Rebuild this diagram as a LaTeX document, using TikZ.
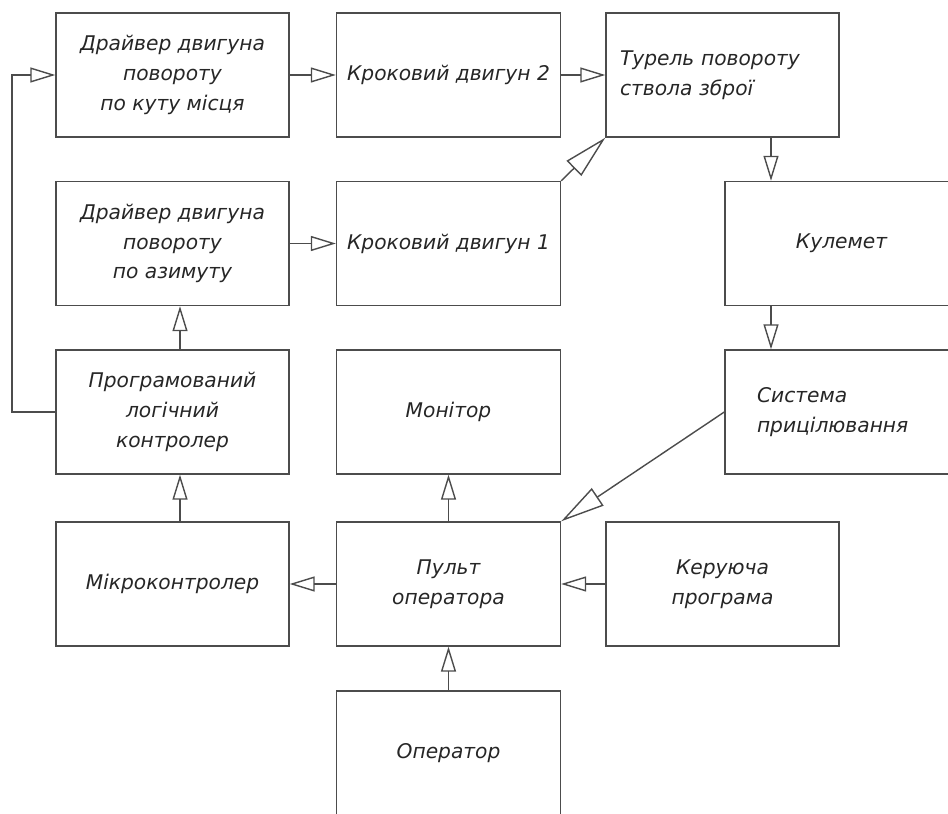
\documentclass[tikz,border=0pt]{standalone}
\usepackage{fontspec}
\setmainfont{DejaVu Sans}
\usetikzlibrary{arrows.meta}
\tikzset{
	blok/.style={draw=black!70, line width=0.8pt, minimum width=4.66cm, minimum height=2.48cm,
		align=center, inner sep=2pt, text=black!85, font=\fontsize{11.5}{17}\selectfont\itshape},
	vuzka/.style={blok, minimum width=4.48cm},
	strilka/.style={draw=black!70, line width=0.8pt, -{Triangle[open, length=0.5cm, width=0.3cm]}},
	kosa/.style={strilka, -{Triangle[open, length=0.88cm, width=0.42cm]}}
}
\begin{document}
\begin{tikzpicture}[x=0.02cm, y=-0.02cm]
\def\kA{172.5}
\def\kB{448.5}
\def\kC{722.5}
\def\kD{841.5}
\useasboundingbox (0,0) rectangle (948,814);

% blocks
\node[blok] (kut) at (\kA,75) {Драйвер двигуна\\повороту\\по куту місця};
\node[vuzka] (krok2) at (\kB,75) {Кроковий двигун 2};
\node[blok, align=left, text width=4.1cm, inner xsep=0.26cm] (tur) at (\kC,75) {Турель повороту\\ствола зброї};
\node[blok] (azym) at (\kA,243.5) {Драйвер двигуна\\повороту\\по азимуту};
\node[vuzka] (krok1) at (\kB,243.5) {Кроковий двигун 1};
\node[blok] (kul) at (\kD,243.5) {Кулемет};
\node[blok] (plk) at (\kA,412) {Програмований\\логічний\\контролер};
\node[vuzka] (mon) at (\kB,412) {Монітор};
\node[blok, align=left, text width=3.38cm, inner xsep=0.64cm] (pryc) at (\kD,412) {Система\\прицілювання};
\node[blok] (mk) at (\kA,584) {Мікроконтролер};
\node[vuzka] (pult) at (\kB,584) {Пульт\\оператора};
\node[blok] (prog) at (\kC,584) {Керуюча\\програма};
\node[vuzka] (oper) at (\kB,753) {Оператор};

\coordinate (vz) at (771,0);
\coordinate (vl) at (180,0);
\coordinate (zv) at (12,75);

% links
\draw[strilka] (kut.east) -- (krok2.west);
\draw[strilka] (krok2.east) -- (tur.west);
\draw[strilka] (azym.east) -- (krok1.west);
\draw[kosa] (krok1.north east) -- (tur.south west);
\draw[strilka] (tur.south -| vz) -- (kul.north -| vz);
\draw[strilka] (kul.south -| vz) -- (pryc.north -| vz);
\draw[kosa] (pryc.west) -- (pult.north east);
\draw[strilka] (pult.north) -- (mon.south);
\draw[strilka] (prog.west) -- (pult.east);
\draw[strilka] (pult.west) -- (mk.east);
\draw[strilka] (oper.north) -- (pult.south);
\draw[strilka] (mk.north -| vl) -- (plk.south -| vl);
\draw[strilka] (plk.north -| vl) -- (azym.south -| vl);
\draw[strilka] (plk.west) -| (zv) -- (kut.west);
\end{tikzpicture}
\end{document}
